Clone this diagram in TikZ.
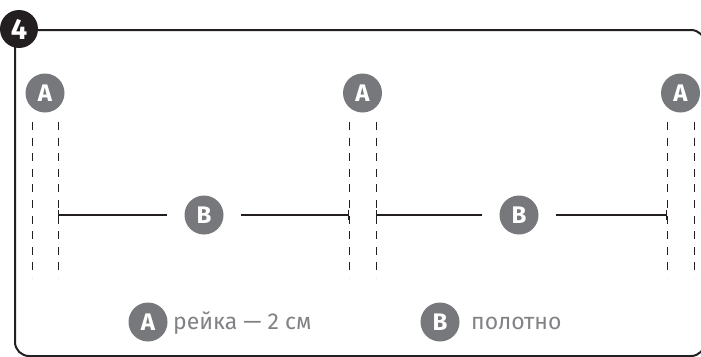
\documentclass[tikz,border=0pt]{standalone}
\usepackage{fontspec}
\setmainfont{Fira Sans}
\usetikzlibrary{arrows.meta}
\definecolor{circgray}{HTML}{77787B}
\definecolor{txtgray}{HTML}{808285}
\definecolor{ink}{HTML}{231F20}
\tikzset{
  lbl/.style={circle,fill=circgray,minimum size=39pt,inner sep=0pt,text=white,font=\fontsize{24}{24}\selectfont\bfseries},
  badge/.style={circle,fill=ink,minimum size=38pt,inner sep=0pt,text=white,font=\fontsize{29}{29}\selectfont\bfseries},
  frame/.style={draw=ink,line width=2pt},
  rail/.style={draw=ink,line width=0.9pt,dash pattern=on 8pt off 7.6pt},
  cloth/.style={draw=ink,line width=1.1pt,{Bar[width=10pt]}-,shorten >=17pt},
  legend/.style={anchor=west,text=txtgray,font=\fontsize{23}{23}\selectfont,inner sep=0pt},
}
\begin{document}
\begin{tikzpicture}[x=1pt,y=-1pt]
\clip (0,0) rectangle (701,356);
\fill[white] (0,0) rectangle (701,356);
% frame
\draw[frame] (15,30) -- (15,342) arc[start angle=180,end angle=90,radius=14] -- (691,356)
  arc[start angle=90,end angle=0,radius=14] -- (705,44) arc[start angle=0,end angle=-90,radius=14] -- cycle;
\node[badge] (badge) at (19,29) {4};
% rails
\foreach \n/\xa/\xb in {1/32/58, 2/349/376, 3/667/694} {
  \coordinate (r\n at) at (\xa,122);
  \coordinate (r\n ab) at (\xa,278);
  \coordinate (r\n bt) at (\xb,122);
  \coordinate (r\n bb) at (\xb,278);
  \draw[rail] (r\n at) -- (r\n ab);
  \draw[rail] (r\n bt) -- (r\n bb);
  \coordinate (r\n a) at (\xa,215);
  \coordinate (r\n b) at (\xb,215);
}
\node[lbl] (A1) at (45,93) {A};
\node[lbl] (A2) at (362.5,93) {A};
\node[lbl] (A3) at (680.5,93) {A};
\node[lbl] (B1) at (204,215) {B};
\node[lbl] (B2) at (519,215) {B};
\draw[cloth] (r1b) -- (B1);
\draw[cloth] (r2a) -- (B1);
\draw[cloth] (r2b) -- (B2);
\draw[cloth] (r3a) -- (B2);
% legend
\node[lbl] (LA) at (148,322) {A};
\node[legend] (LAt) at (173,323) {рейка — 2 см};
\node[lbl] (LB) at (440,322) {B};
\node[legend] (LBt) at (471,323) {полотно};
\end{tikzpicture}
\end{document}
